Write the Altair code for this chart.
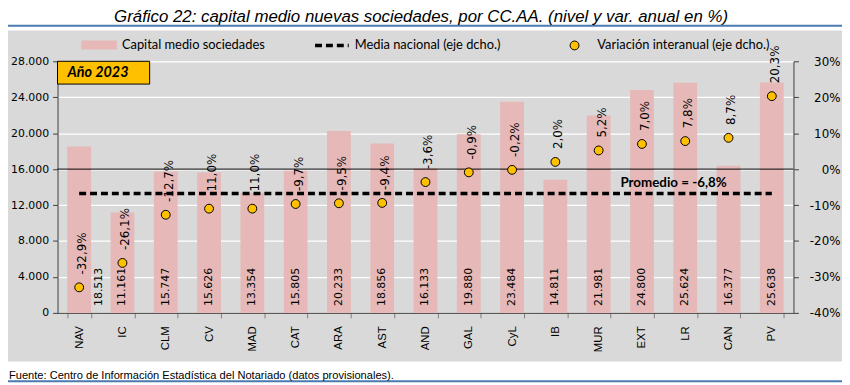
import altair as alt
import pandas as pd

# ---- data ----
cats = ["NAV", "IC", "CLM", "CV", "MAD", "CAT", "ARA", "AST", "AND", "GAL",
        "CyL", "IB", "MUR", "EXT", "LR", "CAN", "PV"]
capital = [18513, 11161, 15747, 15626, 13354, 15805, 20233, 18856, 16133,
           19880, 23484, 14811, 21981, 24800, 25624, 16377, 25638]
variacion = [-32.9, -26.1, -12.7, -11.0, -11.0, -9.7, -9.5, -9.4, -3.6,
             -0.9, -0.2, 2.0, 5.2, 7.0, 7.8, 8.7, 20.3]
media = -6.8

left_ticks = [0, 4000, 8000, 12000, 16000, 20000, 24000, 28000]
right_ticks = [-40, -30, -20, -10, 0, 10, 20, 30]

title_txt = "Gráfico 22: capital medio nuevas sociedades, por CC.AA. (nivel y var. anual en %)"
footer_txt = "Fuente: Centro de Información Estadística del Notariado (datos provisionales)."
leg1, leg2, leg3 = "Capital medio sociedades", "Media nacional (eje dcho.)", "Variación interanual (eje dcho.)"
year_txt = "Año 2023"
prom_txt = "Promedio = " + f"{media:.1f}".replace(".", ",") + "%"

df = pd.DataFrame({
    "cat": cats,
    "capital": capital,
    "var": variacion,
})
df["media"] = media
df["cap_lbl"] = [f"{v:,}".replace(",", ".") for v in capital]
df["var_lbl"] = [f"{v:.1f}".replace(".", ",") + "%" for v in variacion]

one = pd.DataFrame({"zero": [0], "media": [media]})

W, H = 743, 254
BAR = "#E6B9B8"
YEL = "#FFC000"
BLUE = "#4A7AB0"
NARROW = "Liberation Sans Narrow, Liberation Sans"
CAL = "Lato"
TAH = "DejaVu Sans"

xenc = alt.X("cat:N", sort=cats, title=None,
             scale=alt.Scale(paddingInner=0.45, paddingOuter=0.225),
             axis=alt.Axis(labelAngle=270, labelFont=NARROW, labelFontSize=11.5,
                           labelColor="black", labelPadding=8, tickBand="extent",
                           tickSize=5, tickColor="#7f7f7f", domainColor="#404040",
                           labelBaseline="middle", labelAlign="right"))

vscale = alt.Scale(domain=[-40, 30], nice=False, zero=False)
cscale = alt.Scale(domain=[0, 28000], nice=False)

base = alt.Chart(df)
dec = alt.Chart(one)

# decoration outside the plot
top_band = dec.mark_rect(color="white").encode(
    x=alt.value(-60), x2=alt.value(800), y=alt.value(-60), y2=alt.value(-31))
bot_band = dec.mark_rect(color="white").encode(
    x=alt.value(-60), x2=alt.value(800), y=alt.value(303), y2=alt.value(330))
top_line = dec.mark_rule(color=BLUE, strokeWidth=2).encode(
    x=alt.value(-60), x2=alt.value(800), y=alt.value(-36))
bot_line = dec.mark_rule(color=BLUE, strokeWidth=2).encode(
    x=alt.value(-60), x2=alt.value(800), y=alt.value(323))
title = dec.mark_text(text=title_txt, font=NARROW, fontSize=17, fontStyle="italic",
                      align="center", baseline="middle", color="black").encode(
    x=alt.value(367), y=alt.value(-45))
footer = dec.mark_text(text=footer_txt, font=NARROW, fontSize=11.2,
                       align="left", baseline="middle", color="black").encode(
    x=alt.value(-49), y=alt.value(318))

# legend
lg_sw = dec.mark_rect(color=BAR).encode(
    x=alt.value(24), x2=alt.value(60), y=alt.value(-21), y2=alt.value(-12))
lg_t1 = dec.mark_text(text=leg1, font=CAL, fontSize=13, align="left",
                      baseline="middle", color="black").encode(
    x=alt.value(65), y=alt.value(-16))
lg_dash = dec.mark_rule(color="black", strokeWidth=3.5, strokeDash=[7, 4]).encode(
    x=alt.value(260), x2=alt.value(294), y=alt.value(-16))
lg_t2 = dec.mark_text(text=leg2, font=CAL, fontSize=13, align="left",
                      baseline="middle", color="black").encode(
    x=alt.value(300), y=alt.value(-16))
lg_pt = dec.mark_point(shape="circle", filled=True, fill=YEL, stroke="black",
                       strokeWidth=1, size=80, opacity=1).encode(
    x=alt.value(522), y=alt.value(-16))
lg_t3 = dec.mark_text(text=leg3, font=CAL, fontSize=13, align="left",
                      baseline="middle", color="black").encode(
    x=alt.value(545), y=alt.value(-16))

# data marks
bars = base.mark_bar(color=BAR).encode(
    x=xenc,
    y=alt.Y("capital:Q", scale=cscale, title=None,
            axis=alt.Axis(orient="left", values=left_ticks,
                          labelExpr="replace(format(datum.value, ',.0f'), ',', '.')",
                          labelFont=TAH, labelFontSize=11, labelColor="black",
                          labelPadding=4, tickSize=5, tickColor="#404040",
                          domainColor="#404040", grid=True, gridColor="white",
                          gridWidth=1.3)))
# first region's value label sits beside its bar in the reference
bar_lbl = base.mark_text(angle=270, align="left", baseline="middle", font=TAH,
                         fontSize=11, color="black", dx=7).encode(
    x=xenc, y=alt.value(H), text="cap_lbl:N"
).transform_filter(alt.datum.cat != cats[0])
bar_lbl_first = base.mark_text(angle=270, align="left", baseline="middle", font=TAH,
                               fontSize=11, color="black", dx=7, dy=20).encode(
    x=xenc, y=alt.value(H), text="cap_lbl:N"
).transform_filter(alt.datum.cat == cats[0])

zero_rule = dec.mark_rule(color="black", strokeWidth=1).encode(
    y=alt.Y("zero:Q", scale=vscale, axis=None))
dash = base.mark_line(color="black", strokeWidth=3.5, strokeDash=[7, 4]).encode(
    x=xenc, y=alt.Y("media:Q", scale=vscale, axis=None))
pts = base.mark_point(shape="circle", filled=True, fill=YEL, stroke="black",
                      strokeWidth=1, size=80, opacity=1).encode(
    x=xenc,
    y=alt.Y("var:Q", scale=vscale, title=None,
            axis=alt.Axis(orient="right", values=right_ticks,
                          labelExpr="datum.value + '%'", labelFont=TAH,
                          labelFontSize=12, labelColor="black", labelAlign="right",
                          labelPadding=42, tickSize=5, tickColor="#404040",
                          domainColor="#404040", grid=False)))
pt_lbl = base.mark_text(angle=270, align="left", baseline="middle", font=TAH,
                        fontSize=12, color="black", dx=13, dy=3).encode(
    x=xenc, y=alt.Y("var:Q", scale=vscale, axis=None), text="var_lbl:N")
prom = dec.mark_text(text=prom_txt, font=CAL, fontSize=13.5, fontWeight="bold",
                     align="center", baseline="middle", color="black", dy=-11).encode(
    x=alt.value(622), y=alt.Y("media:Q", scale=vscale, axis=None))

year_box = dec.mark_rect(fill=YEL, stroke="black", strokeWidth=1).encode(
    x=alt.value(0), x2=alt.value(93), y=alt.value(0), y2=alt.value(23))
year_t = dec.mark_text(text=year_txt, font=CAL, fontSize=14.5, fontWeight="bold",
                       fontStyle="italic", align="left", baseline="middle",
                       color="black").encode(x=alt.value(10), y=alt.value(12))

chart = alt.layer(
    top_band, bot_band, top_line, bot_line, title, footer,
    lg_sw, lg_t1, lg_dash, lg_t2, lg_pt, lg_t3,
    bars, bar_lbl, bar_lbl_first, zero_rule, dash, pts, pt_lbl, prom,
    year_box, year_t,
).resolve_scale(y="independent").properties(
    width=W, height=H,
    autosize=alt.AutoSizeParams(type="none"),
    padding={"left": 50, "top": 52, "right": 49, "bottom": 71},
    background="#D9D9D9",
).configure_view(stroke=None)

chart.save("out.html", embed_options={"renderer": "svg", "actions": False})
